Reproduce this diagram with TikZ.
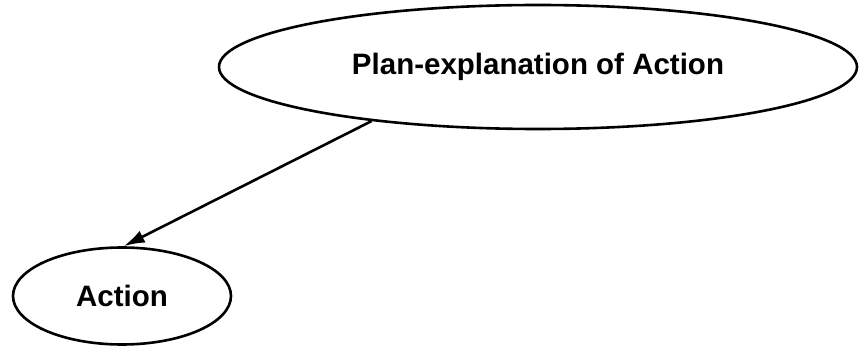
\documentclass[tikz,border=0pt]{standalone}
\usepackage{fontspec}
\setmainfont{Liberation Sans}
\usetikzlibrary{shapes.geometric,arrows.meta}
\begin{document}
\begin{tikzpicture}[x=1pt,y=-1pt,
  goal/.style={ellipse,draw=black,line width=2.6pt,inner sep=0pt,
    font=\fontsize{29.5}{29.5}\selectfont\bfseries},
  link/.style={line width=2.6pt,-{Latex[length=21pt,width=13pt]}}]
  \useasboundingbox (0,0) rectangle (860,350);
  % goal node and the action it explains
  \node[goal,minimum width=638,minimum height=124] (plan) at (538,67) {Plan-explanation of Action};
  \node[goal,minimum width=218,minimum height=97] (act) at (122,296) {Action};
  \draw[link] (plan.198.5) -- (act.88);
\end{tikzpicture}
\end{document}
